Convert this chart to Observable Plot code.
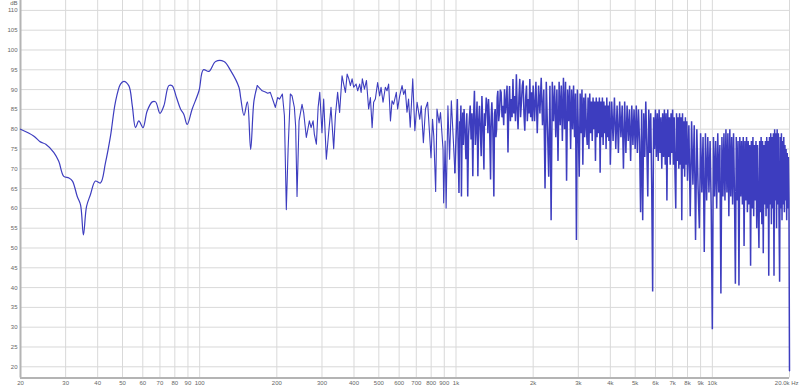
<!DOCTYPE html>
<html><head><meta charset="utf-8">
<script src="https://cdn.jsdelivr.net/npm/d3@7"></script>
<script src="https://cdn.jsdelivr.net/npm/@observablehq/plot@0.6"></script>
<style>html,body{margin:0;padding:0;background:#fff}</style>
</head><body><div id="chart"></div>
<script>
const yTicks = [20,25,30,35,40,45,50,55,60,65,70,75,80,85,90,95,100,105,110];
const xTicks = [20,30,40,50,60,70,80,90,100,200,300,400,500,600,700,800,900,1000,2000,3000,4000,5000,6000,7000,8000,9000,10000,20000];
const xTickLabels = ["20","30","40","50","60","70","80","90","100","200","300","400","500","600","700","800","900","1k","2k","3k","4k","5k","6k","7k","8k","9k","10k","20.0k Hz"];

// smooth low-frequency part (Hz, dB)
const lowHz = [20,22.5,23.9,25.1,27,28.2,29.5,30.9,31.9,33.3,34.3,35.2,36.2,37.5,39.2,41,42.9,44.9,46.9,49.1,50.6,52.9,54.6,56.2,57.9,60.1,62.4,65.3,67.3,70,72.5,75.8,78.1,81.2,84.2,86.7,89.4,93.5,99.4,103.4,108.7,115.4,124.4,132.1,142.3,144.5,148.9,153.5,158.1,162.9,167.8];
const lowDb = [80,78.3,76.8,76.2,74.1,71.9,68.1,67.7,66.9,63,60.9,53.3,60.5,63.5,66.9,66.4,71.5,78.3,86.8,91.4,92.1,91,85.9,80.4,82.1,80.4,84.6,86.9,86.9,84,85.9,91,91,88,85.1,83.8,81.2,85.1,89.7,95,94.6,97.1,97.1,94.8,90.6,88,83.5,86.9,74.9,87.2,91];

// mid part 168 Hz - 1 kHz
const midHz = [167.8,175.3,180.4,184.2,188.6,194.4,197.3,201.4,205.1,210.2,214.1,217.8,221.3,225.8,229.3,234.1,236.8,239.8,244.2,250.8,254.5,260.7,267.9,272.1,277,280.2,285.3,289.8,294.1,300,304.6,312,318.6,325.4,333.3,338.4,345.3,351.5,359.3,364.6,370.4,376.1,381.9,387.3,393.2,398.9,407.6,413.5,421,426.5,431.1,439.4,447.4,456.2,463.5,470.7,477.2,484.5,494.6,503.6,510,519.2,530.1,538,546,555,563,571,585,592,603,616,625,634,644,653,663,678,691,705,722,732,746,760,775,799,810,819,833,843,859,870,890,895,907,915,930,944,959,976,990];
const midDb = [91,89.7,89.4,89.1,89.3,86.8,85.5,88,87.6,88.9,83.4,59.7,74.9,88.9,88.4,85.5,80.8,63,82.1,86.3,84.2,77.9,82.1,80.4,82.1,78.7,76.2,85.5,89.3,79.1,87.6,72.4,79.1,85.5,75.1,83.4,89.3,84.2,93.5,91.4,89.3,93.9,92.7,91,92.7,90.6,91.4,89.7,91.4,89.3,92.7,90.1,92.3,85.1,88,80.4,86.8,87.6,91.8,88.4,90.6,86.8,90.6,89.7,91.4,82.1,87.2,86.3,89.3,85.1,88.4,91,88.8,90,84.3,87.6,80.5,92.7,79.6,86.8,82.5,85.9,76.6,85.1,86.8,72.8,82.5,78.3,64.3,85.1,81.6,84.2,74.9,61.4,77,60.1,85.9,72.4,87.2,77.4,69];

// 1 kHz - 2 kHz
const kHz1 = [1012,1020,1027,1034,1040,1045,1050,1056,1062,1068,1075,1084,1093,1102,1111,1119,1127,1136,1145,1154,1163,1171,1180,1190,1199,1208,1217,1226,1235,1245,1254,1262,1274,1285,1292,1300,1312,1324,1332,1339,1352,1364,1372,1380,1392,1405,1414,1422,1431,1440,1448,1456,1467,1478,1489,1500,1512,1524,1535,1546,1558,1570,1582,1595,1606,1618,1630,1643,1655,1668,1680,1693,1706,1720,1733,1746,1760,1773,1786,1800,1814,1828,1841,1855,1870,1884,1898,1913,1927,1941,1956,1971,1985];
const kDb1 = [87.6,75,63.9,82,80,86,63,79,84.2,76,85.1,80,72.4,84,63,78,82.5,86,77.4,84,68.1,83,89.7,76,80.8,87,68.1,82,85.9,79,73.2,88.4,80,69.8,84,80.8,88,85.1,79,87.6,81,67.3,83,86.8,80,63,84,85.1,78,80,88,89.7,82,84.2,90,89.3,83,85.9,81,90.1,84,86.8,91,74.1,85,90.9,82,87.6,83,92.7,84,88.4,82,93.9,85,80,88,92.7,83,86.8,91,92.3,84,79.6,88,91,82,87.6,84,92.7,83,89.3,82];

// 2 kHz - 4 kHz
const kHz2 = [2000,2025,2050,2075,2100,2125,2150,2175,2200,2225,2250,2275,2300,2325,2350,2375,2400,2425,2450,2475,2500,2525,2550,2575,2600,2625,2650,2675,2700,2725,2750,2775,2800,2825,2850,2875,2900,2925,2950,2975,3000,3025,3050,3075,3100,3125,3150,3175,3200,3225,3250,3275,3300,3325,3350,3375,3400,3425,3450,3475,3500,3525,3550,3575,3600,3625,3650,3675,3700,3725,3750,3775,3800,3825,3850,3875,3900,3925,3950,3975,4000];
const kDb2 = [91,82,92,79,91,84,93,81,90,65,92,80,68,91,57,92,82,91,78,90,72,92,81,91,77,93,80,92,67,90,82,91,75,90,80,91,78,89,52,90,80,68,89,79,90,71,88,78,89,80,76,88,75,89,79,87,77,88,80,87,72,88,78,87,79,88,69,87,78,88,76,87,79,86,75,88,78,86,77,87,71];

// 4 kHz - 8 kHz
const kHz4 = [4050,4100,4150,4200,4250,4300,4350,4400,4450,4500,4550,4600,4650,4700,4750,4800,4850,4900,4950,5000,5050,5100,5150,5200,5250,5300,5350,5400,5450,5500,5550,5600,5650,5700,5750,5800,5850,5900,5950,6000,6050,6100,6150,6200,6250,6300,6350,6400,6450,6500,6550,6600,6650,6700,6750,6800,6850,6900,6950,7000,7050,7100,7150,7200,7250,7300,7350,7400,7450,7500,7550,7600,7650,7700,7750,7800,7850,7900,7950,8000];
const kDb4 = [87,77,88,75,86,74,87,78,86,70,87,74,86,77,85,72,86,76,85,75,86,74,85,77,59,85,57,84,73,87,76,63,85,74,84,66,39,83,75,85,73,84,72,85,74,83,70,84,73,85,71,84,62,85,73,83,71,84,74,85,71,83,69,60,84,72,83,70,84,71,83,57,84,70,82,68,83,71,82,67];

// 8 kHz - 16 kHz
const kHz8 = [8100,8200,8300,8400,8500,8600,8700,8800,8900,9000,9100,9200,9300,9400,9500,9600,9700,9800,9900,10000,10100,10200,10300,10400,10500,10600,10700,10800,10900,11000,11100,11200,11300,11400,11500,11600,11700,11800,11900,12000,12100,12200,12300,12400,12500,12600,12700,12800,12900,13000,13100,13200,13300,13400,13500,13600,13700,13800,13900,14000,14100,14200,14300,14400,14500,14600,14700,14800,14900,15000,15100,15200,15300,15400,15500,15600,15700,15800,15900,16000];
const kDb8 = [81,58,82,66,81,52,80,65,55,79,64,78,49,79,62,78,64,77,60,29.5,78,63,77,60,79,64,76,38.5,78,63,79,62,80,64,79,58,80,63,78,61,79,64,41,78,62,77,40.5,78,63,77,61,78,50.5,77,62,78,59,77,61,76,45.5,77,60,78,58,76,62,77,55,76,60,50,77,59,78,56,77,48.7,76,61];

// 16 kHz - 20 kHz
const kHz16 = [16100,16200,16300,16400,16500,16600,16700,16800,16900,17000,17100,17200,17300,17400,17500,17600,17700,17800,17900,18000,18100,18200,18300,18400,18500,18600,18700,18800,18900,19000,19100,19200,19300,19400,19500,19600,19700,19800,19900,20000];
const kDb16 = [77,58,78,60,77,43,78,61,79,56,78,60,79,43,80,62,79,55,80,61,79,58,41.5,78,60,79,57,77,61,78,59,76,62,75,57,74,60,73,62,19];

const rows = (hz, db) => hz.map((f, i) => ({f, db: db[i]}));
const low = rows(lowHz, lowDb);
const mid = rows(midHz, midDb);
const high = [
  mid[mid.length - 1],
  ...rows(kHz1, kDb1), ...rows(kHz2, kDb2),
  ...rows(kHz4, kDb4), ...rows(kHz8, kDb8), ...rows(kHz16, kDb16)
];

const lineColor = "#3d3dbf";
const labelColor = "#666";
const lastTick = xTicks[xTicks.length - 1];
const label = d => xTickLabels[xTicks.indexOf(d)];
const chart = Plot.plot({
  width: 800, height: 388,
  marginLeft: 20, marginRight: 11, marginTop: 0, marginBottom: 10.5,
  style: {fontFamily: "'Liberation Sans', Arial, sans-serif", fontSize: "6px", color: labelColor, background: "#fff"},
  x: {type: "log", domain: [20, 20000], axis: null},
  y: {domain: [17.17, 112.5], axis: null},
  marks: [
    Plot.ruleX(xTicks, {stroke: "#d9d9d9", strokeWidth: 1}),
    Plot.ruleY(yTicks, {stroke: "#d9d9d9", strokeWidth: 1}),
    Plot.ruleX([20], {stroke: "#b4b4b4", strokeWidth: 2}),
    Plot.ruleY([17.17], {stroke: "#b4b4b4", strokeWidth: 2}),
    Plot.text(yTicks, {y: d => d, text: d => String(d), frameAnchor: "left", dx: -3, textAnchor: "end", fill: labelColor, fontSize: 6}),
    Plot.text(xTicks.filter(d => d !== lastTick), {x: d => d, text: label, frameAnchor: "bottom", lineAnchor: "top", dy: 3, fill: labelColor, fontSize: 6}),
    Plot.text([lastTick], {x: d => d, text: label, frameAnchor: "bottom", lineAnchor: "top", dy: 3, dx: 9, textAnchor: "end", fill: labelColor, fontSize: 6}),
    Plot.text(["dB"], {frameAnchor: "top-left", dx: -3, dy: 0, textAnchor: "end", lineAnchor: "top", fill: labelColor, fontSize: 6}),
    Plot.line(low, {x: "f", y: "db", curve: "catmull-rom", stroke: lineColor, strokeWidth: 1.2}),
    Plot.line(mid, {x: "f", y: "db", stroke: lineColor, strokeWidth: 1.1}),
    Plot.line(high, {x: "f", y: "db", stroke: lineColor, strokeWidth: 1.5, strokeLinejoin: "miter", strokeMiterlimit: 2})
  ]
});
document.getElementById("chart").append(chart);
</script>
</body></html>
